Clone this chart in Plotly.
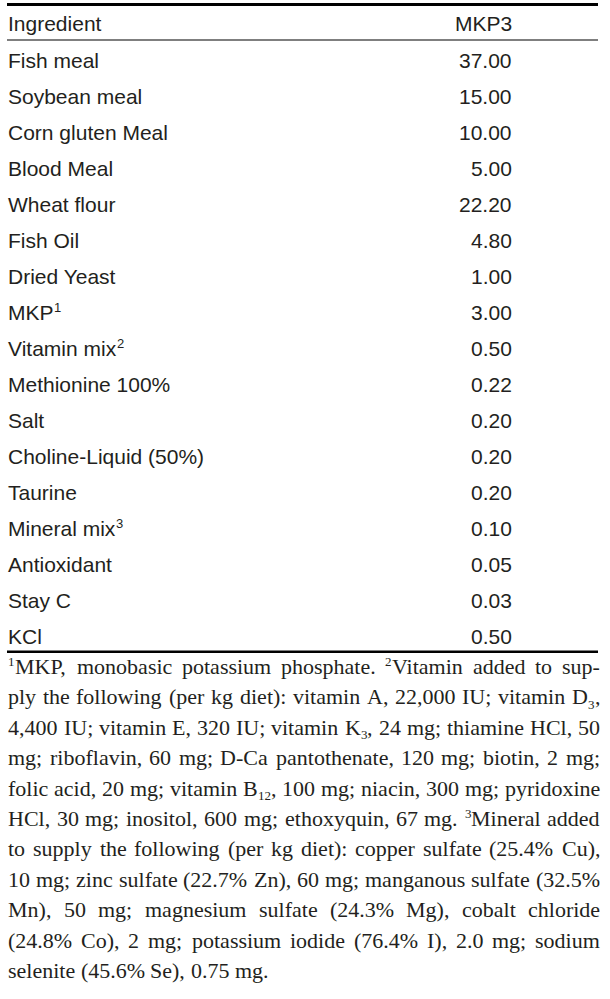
import re
import plotly.graph_objects as go

# ---------------- data ----------------
header = ["Ingredient", "MKP3"]
ingredients = ["Fish meal", "Soybean meal", "Corn gluten Meal", "Blood Meal", "Wheat flour",
               "Fish Oil", "Dried Yeast", "MKP", "Vitamin mix", "Methionine 100%", "Salt",
               "Choline-Liquid (50%)", "Taurine", "Mineral mix", "Antioxidant", "Stay C", "KCl"]
mkp3 = [37.00, 15.00, 10.00, 5.00, 22.20, 4.80, 1.00, 3.00, 0.50, 0.22, 0.20,
        0.20, 0.20, 0.10, 0.05, 0.03, 0.50]
note_marks = ["", "", "", "", "", "", "", "1", "2", "", "", "", "", "3", "", "", ""]

footnote_lines = [
    "^1MKP, monobasic potassium phosphate. ^2Vitamin added to sup-",
    "ply the following (per kg diet): vitamin A, 22,000 IU; vitamin D_3,",
    "4,400 IU; vitamin E, 320 IU; vitamin K_3, 24 mg; thiamine HCl, 50",
    "mg; riboflavin, 60 mg; D-Ca pantothenate, 120 mg; biotin, 2 mg;",
    "folic acid, 20 mg; vitamin B_12, 100 mg; niacin, 300 mg; pyridoxine",
    "HCl, 30 mg; inositol, 600 mg; ethoxyquin, 67 mg. ^3Mineral added",
    "to supply the following (per kg diet): copper sulfate (25.4% Cu),",
    "10 mg; zinc sulfate (22.7% Zn), 60 mg; manganous sulfate (32.5%",
    "Mn), 50 mg; magnesium sulfate (24.3% Mg), cobalt chloride",
    "(24.8% Co), 2 mg; potassium iodide (76.4% I), 2.0 mg; sodium",
    "selenite (45.6% Se), 0.75 mg.",
]

# ---------------- styling ----------------
W, H = 610, 999
LEFT, RIGHT = 8, 600
VAL_RIGHT = 512
INK = "#231F20"
SANS = "Liberation Sans, Arial, sans-serif"
SERIF = "Liberation Serif, Times New Roman, serif"
TAB_SIZE = 21
SUP_SIZE = 13
NOTE_SIZE = 22
NOTE_SCRIPT = 13

HEADER_BASE = 31.0
ROW0_BASE = 67.7
ROW_STEP = 36.0
NOTE0_BASE = 674.0
NOTE_STEP = 30.4

# character widths (1/1000 em)
ARIAL = {" ": 278, "M": 833, "K": 667, "P": 667, "V": 667, "i": 222, "t": 278, "a": 556,
         "m": 833, "n": 556, "x": 500, "e": 556, "r": 333, "l": 222}
TIMES = {" ": 250, "%": 833, "(": 333, ")": 333, ",": 250, "-": 333, ".": 250, ":": 278, ";": 278,
         "A": 722, "B": 667, "C": 667, "D": 722, "E": 611, "F": 556, "G": 722, "H": 722, "I": 333,
         "J": 389, "K": 722, "L": 611, "M": 889, "N": 722, "O": 722, "P": 556, "Q": 722, "R": 667,
         "S": 556, "T": 611, "U": 722, "V": 722, "W": 944, "X": 722, "Y": 722, "Z": 611,
         "a": 444, "b": 500, "c": 444, "d": 500, "e": 444, "f": 333, "g": 500, "h": 500, "i": 278,
         "j": 278, "k": 500, "l": 278, "m": 778, "n": 500, "o": 500, "p": 500, "q": 500, "r": 333,
         "s": 389, "t": 278, "u": 500, "v": 500, "w": 722, "x": 500, "y": 500, "z": 444}
for d in "0123456789":
    TIMES[d] = 500
    ARIAL[d] = 556


def width(s, size, table):
    return sum(table.get(c, 500) for c in s) * size / 1000.0


fig = go.Figure()
fig.update_layout(
    width=W, height=H, margin=dict(l=0, r=0, t=0, b=0),
    paper_bgcolor="white", plot_bgcolor="white", showlegend=False,
    xaxis=dict(range=[0, W], visible=False, fixedrange=True),
    yaxis=dict(range=[H, 0], visible=False, fixedrange=True),
)

SANS_MID = (0.905 - 0.212) / 2
SERIF_MID = (0.891 - 0.216) / 2


def put(x, baseline, s, size, family, mid, xanchor="left"):
    fig.add_annotation(x=x, y=baseline - mid * size, text=s, showarrow=False,
                       xanchor=xanchor, yanchor="middle", borderpad=0, borderwidth=0,
                       font=dict(size=size, family=family, color=INK))


# rules
def rule(y, w):
    fig.add_shape(type="line", x0=7, x1=598, y0=y, y1=y, line=dict(color="#000000", width=w))


rule(4.5, 3.2)
rule(40, 1.2)
rule(ROW0_BASE + ROW_STEP * (len(ingredients) - 1) + 8, 2.6)

# header
put(LEFT, HEADER_BASE, header[0], TAB_SIZE, SANS, SANS_MID)
put(VAL_RIGHT, HEADER_BASE, header[1], TAB_SIZE, SANS, SANS_MID, xanchor="right")

# rows
for i, (name, val, mark) in enumerate(zip(ingredients, mkp3, note_marks)):
    b = ROW0_BASE + ROW_STEP * i
    put(LEFT, b, name, TAB_SIZE, SANS, SANS_MID)
    if mark:
        put(LEFT + width(name, TAB_SIZE, ARIAL) + 0.5, b - 7.5, mark, SUP_SIZE, SANS, SANS_MID)
    put(VAL_RIGHT, b, f"{val:.2f}", TAB_SIZE, SANS, SANS_MID, xanchor="right")

# footnotes (justified)
for li, line in enumerate(footnote_lines):
    b = NOTE0_BASE + NOTE_STEP * li
    words = line.split(" ")
    parsed = []
    for w in words:
        segs = []
        for part in re.findall(r"\^\d+|_\d+|[^\^_]+", w):
            if part.startswith("^"):
                segs.append(("sup", part[1:], width(part[1:], NOTE_SCRIPT, TIMES)))
            elif part.startswith("_"):
                segs.append(("sub", part[1:], width(part[1:], NOTE_SCRIPT, TIMES)))
            else:
                segs.append(("n", part, width(part, NOTE_SIZE, TIMES)))
        parsed.append(segs)
    wsum = [sum(s[2] for s in segs) for segs in parsed]
    total = sum(wsum)
    if li < len(footnote_lines) - 1 and len(parsed) > 1:
        gap = (RIGHT - LEFT - total) / (len(parsed) - 1)
    else:
        gap = width(" ", NOTE_SIZE, TIMES)
    x = LEFT
    for segs, ww in zip(parsed, wsum):
        xx = x
        for kind, s, sw in segs:
            if kind == "n":
                put(xx, b, s, NOTE_SIZE, SERIF, SERIF_MID)
            elif kind == "sup":
                put(xx, b - 8, s, NOTE_SCRIPT, SERIF, SERIF_MID)
            else:
                put(xx, b + 4, s, NOTE_SCRIPT, SERIF, SERIF_MID)
            xx += sw
        x += ww + gap

# the page's default 8px body margin would shift the whole figure
fig.write_html("out.html", config={"displayModeBar": False, "staticPlot": True},
               post_script="document.body.style.margin='0px';")
